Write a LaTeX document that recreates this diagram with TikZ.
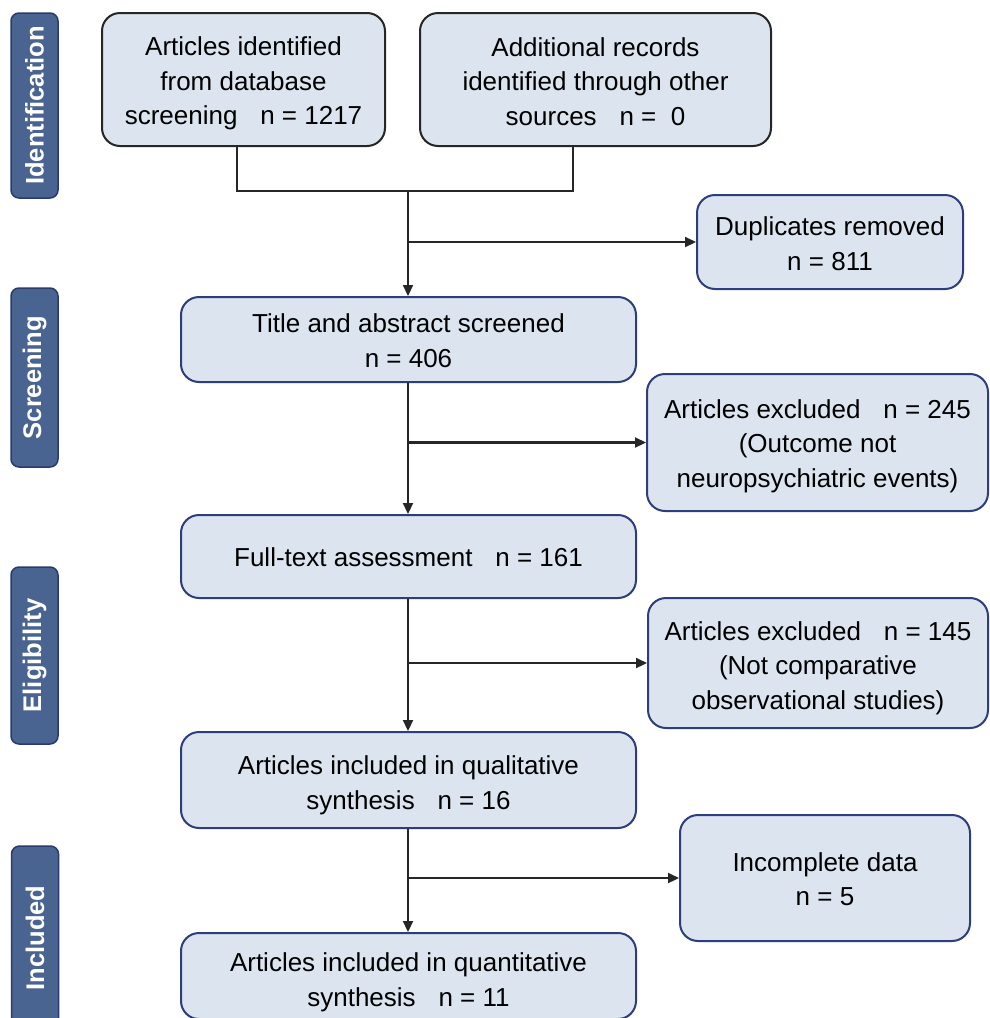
\documentclass[tikz,border=0pt]{standalone}
\usepackage{fontspec}
\setmainfont{Liberation Sans}
\usetikzlibrary{arrows.meta}
\definecolor{boxfill}{HTML}{DCE4EF}
\definecolor{boxline}{HTML}{2E3D7C}
\definecolor{sidefill}{HTML}{4A6491}
\definecolor{sideline}{HTML}{2B3A6C}
\newcommand{\dn}[1]{\rule{0pt}{#1}}
\begin{document}
\begin{tikzpicture}[x=1pt,y=-1pt,
  box/.style={draw=boxline, fill=boxfill, line width=2pt, rounded corners=18pt,
    align=center, font=\fontsize{26}{34.5}\selectfont, inner sep=0pt},
  blackbox/.style={box, draw=black!85},
  side/.style={draw=sideline, fill=sidefill, line width=1.5pt, rounded corners=8pt,
    text=white, font=\bfseries\fontsize{25.5}{30}\selectfont, rotate=90, inner sep=0pt,
    minimum height=47},
  conn/.style={line width=2.2pt, draw=black!85},
  arr/.style={conn, -{Triangle[length=11pt,width=10pt]}}]
\clip (0,0) rectangle (989,1018);

% side labels
\node[side, minimum width=185] (sid) at (34.5,105.5) {Identification};
\node[side, minimum width=179] (sscr) at (34.5,377.5) {Screening};
\node[side, minimum width=177] (selig) at (34.5,655.5) {Eligibility};
\node[side, minimum width=184] (sinc) at (35,938) {Included};

% boxes
\node[blackbox, minimum width=283, minimum height=133] (b1) at (243.5,79.5)
  {\dn{27pt}Articles identified\\from database\\screening\hspace{0.6em} n = 1217};
\node[blackbox, minimum width=351, minimum height=133] (b2) at (595.5,79.5)
  {\dn{23pt}Additional records\\identified through other\\sources\hspace{0.6em} n = \ 0};
\node[box, minimum width=266, minimum height=94] (dup) at (830,242)
  {\dn{22pt}Duplicates removed\\n = 811};
\node[box, minimum width=455, minimum height=85] (t) at (408.5,339.5)
  {\dn{21pt}Title and abstract screened\\n = 406};
\node[box, minimum width=341, minimum height=137] (ex1) at (817.5,442.5)
  {\dn{26pt}Articles excluded\hspace{0.6em} n = 245\\(Outcome not\\neuropsychiatric events)};
\node[box, minimum width=455, minimum height=83] (f) at (408.5,556.5)
  {\dn{21pt}Full-text assessment\hspace{0.6em} n = 161};
\node[box, minimum width=340, minimum height=130] (ex2) at (818,663)
  {\dn{29pt}Articles excluded\hspace{0.6em} n = 145\\(Not comparative\\observational studies)};
\node[box, minimum width=455, minimum height=96] (q) at (408.5,780)
  {\dn{29pt}Articles included in qualitative\\synthesis\hspace{0.6em} n = 16};
\node[box, minimum width=290, minimum height=126] (inc) at (825,878)
  {\dn{21pt}Incomplete data\\n = 5};
\node[box, minimum width=455, minimum height=86] (qt) at (408.5,976)
  {\dn{31pt}Articles included in quantitative\\synthesis\hspace{0.6em} n = 11};

% connectors
\coordinate (j1) at (237,191);
\coordinate (j2) at (573,191);
\coordinate (m) at (408,191);
\draw[conn] (b1.south -| j1) -- (j1) -- (j2) -- (b2.south -| j2);
\draw[arr] (m) -- (t.north -| m);
\draw[arr] (m |- dup.west) -- (dup.west);
\draw[arr] (t.south -| m) -- (f.north -| m);
\draw[arr] (m |- ex1.west) -- (ex1.west);
\draw[arr] (f.south -| m) -- (q.north -| m);
\draw[arr] (m |- ex2.west) -- (ex2.west);
\draw[arr] (q.south -| m) -- (qt.north -| m);
\draw[arr] (m |- inc.west) -- (inc.west);
\end{tikzpicture}
\end{document}
